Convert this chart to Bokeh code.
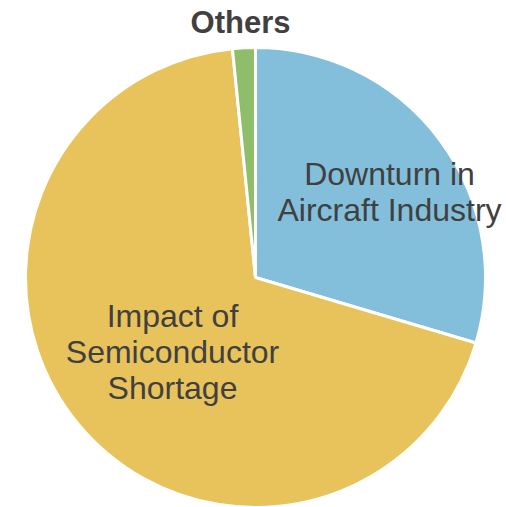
import math
from bokeh.plotting import figure
from bokeh.models import Range1d, ColumnDataSource
from bokeh.core.properties import value
from bokeh.embed import file_html
from bokeh.resources import INLINE

# data
categories = ["Downturn in Aircraft Industry", "Impact of Semiconductor Shortage", "Others"]
shares = [29.6, 68.8, 1.6]
colors = ["#83BFDA", "#E8C35B", "#8FBE6B"]
title_text = "Others"

# layout (pixel-like data space, y up)
W, H = 506, 507
cx, cy, r = 255, -277, 230

start, end = [], []
cum = 0.0
total = sum(shares)
for s in shares:
    a0 = math.pi / 2 - 2 * math.pi * cum / total
    cum += s
    a1 = math.pi / 2 - 2 * math.pi * cum / total
    start.append(a1)
    end.append(a0)

src = ColumnDataSource(dict(cat=categories, start=start, end=end, color=colors))

p = figure(width=W, height=H, x_range=Range1d(0, W), y_range=Range1d(-H, 0),
           output_backend="svg", toolbar_location=None, min_border=0,
           background_fill_color="white", border_fill_color="white")
p.axis.visible = False
p.grid.visible = False
p.outline_line_color = None

p.wedge(x=cx, y=cy, radius=r, start_angle="start", end_angle="end",
        fill_color="color", line_color="white", line_width=3, source=src)

# slice labels
lab = ColumnDataSource(dict(
    x=[cx + 134, cx - 83],
    y=[cy + 86, cy - 74],
    t=["Downturn in\nAircraft Industry", "Impact of\nSemiconductor\nShortage"],
))
p.text(x="x", y="y", text="t", source=lab, text_align="center", text_baseline="middle",
       text_font=value("Liberation Sans"), text_font_size="32px", text_color="#404040",
       text_line_height=1.0)

p.text(x=[cx - 15], y=[-22], text=[title_text], text_align="center", text_baseline="middle",
       text_font=value("Liberation Sans"), text_font_size="31px", text_font_style="bold",
       text_color="#404040")

open("out.html", "w").write(file_html(p, INLINE))
